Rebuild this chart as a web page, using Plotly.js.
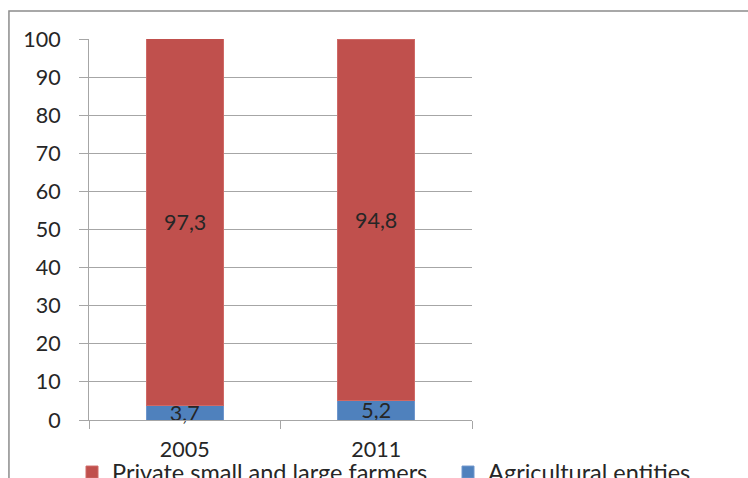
<!DOCTYPE html>
<html>
<head>
<meta charset="utf-8">
<script src="https://cdn.plot.ly/plotly-3.0.1.min.js"></script>
<style>
html,body{margin:0;padding:0;background:#fff;overflow:hidden;}
#chart{width:748px;height:478px;}
</style>
</head>
<body>
<div id="chart"></div>
<script>
const years = ['2005', '2011'];
const agriculturalEntities = [3.7, 5.2];
const privateFarmers = [97.3, 94.8];
const yTicks = [0, 10, 20, 30, 40, 50, 60, 70, 80, 90, 100];
const yMax = 100;

const fontFam = 'Lato, "Open Sans", sans-serif';
const txtColor = '#262626';
const fmt = v => v.toFixed(1).replace('.', ',');

const traces = [
  {
    type: 'bar', name: 'Agricultural entities', x: years, y: agriculturalEntities,
    legend: 'legend2',
    marker: {color: '#4F81BD', line: {color: '#6F96CC', width: 1}},
    texttemplate: '%{y:.1f}', textposition: 'inside', insidetextanchor: 'middle',
    constraintext: 'none', textfont: {family: fontFam, size: 21.5, color: txtColor},
    cliponaxis: false, hoverinfo: 'skip'
  },
  {
    type: 'bar', name: 'Private small and large farmers', x: years, y: privateFarmers,
    legend: 'legend',
    marker: {color: '#C0504D', line: {color: '#CF6966', width: 1}},
    hoverinfo: 'skip'
  }
];

// labels for the upper (clipped) segment, centred in its visible part
const redLabels = years.map((yr, i) => {
  const lo = agriculturalEntities[i];
  const hi = Math.min(yMax, lo + privateFarmers[i]);
  return {
    x: i, y: (lo + hi) / 2, xref: 'x', yref: 'y', text: fmt(privateFarmers[i]),
    showarrow: false, font: {family: fontFam, size: 21.5, color: txtColor}
  };
});

const legendCommon = {
  orientation: 'h', xref: 'container', yref: 'container',
  xanchor: 'left', yanchor: 'top', y: 0.058,
  font: {family: fontFam, size: 23.5, color: txtColor},
  bgcolor: 'rgba(0,0,0,0)', itemwidth: 30
};

const layout = {
  width: 748, height: 478,
  margin: {l: 89, r: 276, t: 39, b: 58},
  paper_bgcolor: '#ffffff', plot_bgcolor: '#ffffff',
  barmode: 'stack', bargap: 0.598,
  separators: ',.',
  font: {family: fontFam, size: 21.5, color: txtColor},
  showlegend: true,
  legend: Object.assign({}, legendCommon, {x: 72 / 748}),
  legend2: Object.assign({}, legendCommon, {x: 448 / 748}),
  xaxis: {
    type: 'category', categoryarray: years, range: [-0.5, years.length - 0.5], autorange: false,
    tickson: 'boundaries', ticks: 'outside', ticklen: 8,
    tickcolor: '#A6A6A6', showline: true, linecolor: '#A6A6A6', linewidth: 1,
    showgrid: false, tickfont: {family: fontFam, size: 21.5, color: txtColor},
    ticklabelstandoff: 10, fixedrange: true
  },
  yaxis: {
    range: [0, yMax], autorange: false, tickvals: yTicks, ticktext: yTicks.map(String),
    ticks: 'outside', ticklen: 9, tickcolor: '#A6A6A6',
    showline: true, linecolor: '#A6A6A6', linewidth: 1,
    showgrid: true, gridcolor: '#A6A6A6', gridwidth: 1, zeroline: false,
    tickfont: {family: fontFam, size: 21.5, color: txtColor},
    ticklabelstandoff: 14, fixedrange: true
  },
  annotations: redLabels,
  shapes: [
    {type: 'rect', xref: 'paper', yref: 'paper',
     x0: -0.209, x1: 1.9, y0: -0.3, y1: 1.0735,
     line: {color: '#8C8C8C', width: 1.5}, fillcolor: 'rgba(0,0,0,0)', layer: 'below'}
  ]
};

Plotly.newPlot('chart', traces, layout, {displayModeBar: false, staticPlot: true});
</script>
</body>
</html>
